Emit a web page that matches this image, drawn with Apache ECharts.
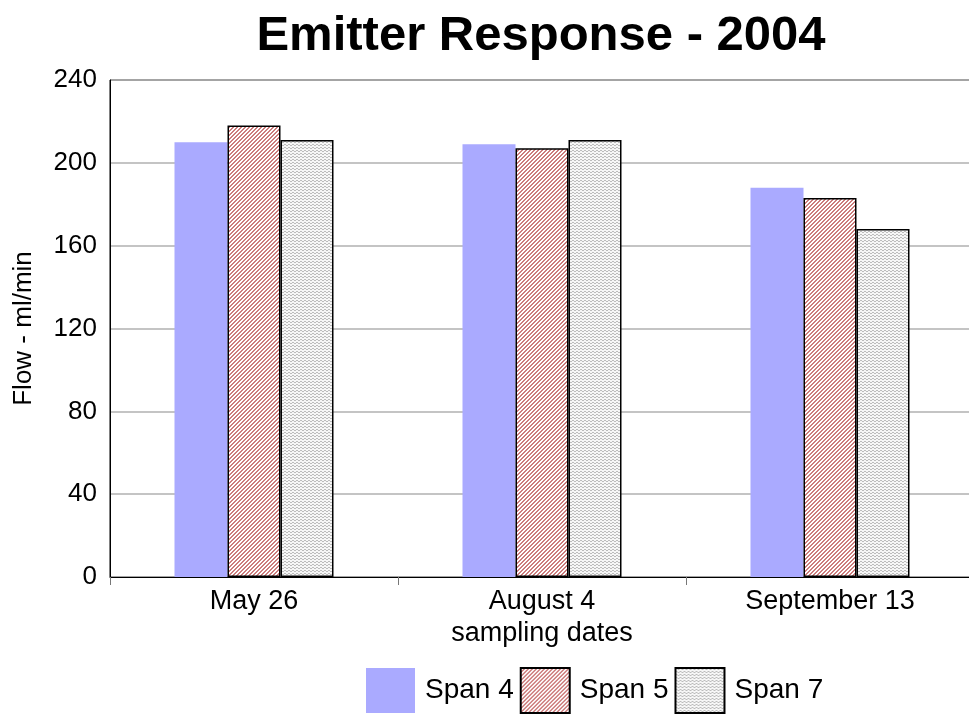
<!DOCTYPE html>
<html>
<head>
<meta charset="utf-8">
<script src="https://cdn.jsdelivr.net/npm/echarts@6/dist/echarts.min.js"></script>
<style>
  html, body { margin: 0; padding: 0; background: #fff; }
  #chart { width: 969px; height: 715px; }
</style>
</head>
<body>
<div id="chart"></div>
<script>
var dates = ['May 26', 'August 4', 'September 13'];
var span4 = [210, 209, 188];
var span5 = [218, 207, 183];
var span7 = [211, 211, 168];
var yTicks = [0, 40, 80, 120, 160, 200, 240];

// pixel tiles for the hatched bars
function hatch() {
    var c = document.createElement('canvas');
    c.width = 4; c.height = 4;
    var ctx = c.getContext('2d');
    ctx.fillStyle = '#ffffff';
    ctx.fillRect(0, 0, 4, 4);
    ctx.fillStyle = '#cc7c7c';
    for (var i = 0; i < 4; i++) {
        ctx.fillRect(i, 3 - i, 1, 1);
        ctx.fillRect((i + 1) % 4, 3 - i, 1, 1);
    }
    return c;
}

function dots() {
    var c = document.createElement('canvas');
    c.width = 4; c.height = 3;
    var ctx = c.getContext('2d');
    ctx.fillStyle = '#f6f6f6';
    ctx.fillRect(0, 0, 4, 3);
    ctx.fillStyle = '#bcbcbc';
    ctx.fillRect(0, 0, 2, 1);
    ctx.fillRect(2, 1, 2, 1);
    return c;
}

var chart = echarts.init(document.getElementById('chart'));
var font = 'Liberation Sans, Arial, sans-serif';

var option = {
    backgroundColor: '#fff',
    animation: false,
    title: {
        text: 'Emitter Response - 2004',
        left: 536,
        textAlign: 'center',
        top: 7,
        textStyle: { fontFamily: font, fontSize: 49, fontWeight: 'bold', color: '#000' }
    },
    legend: {
        data: ['Span 4', 'Span 5', 'Span 7'],
        left: 366,
        top: 667,
        padding: 0,
        itemWidth: 49,
        itemHeight: 45,
        itemGap: 6,
        icon: 'rect',
        textStyle: { fontFamily: font, fontSize: 28, color: '#000', padding: [0, 0, 0, 5] }
    },
    grid: {
        left: 110,
        right: -5,
        top: 80,
        bottom: 138,
        outerBoundsMode: 'none',
        show: true,
        borderColor: '#000',
        borderWidth: 1
    },
    xAxis: {
        type: 'category',
        data: dates,
        name: 'sampling dates',
        nameLocation: 'middle',
        nameGap: 42,
        nameTextStyle: { fontFamily: font, fontSize: 27, color: '#000' },
        axisLine: { lineStyle: { color: '#000', width: 1 } },
        axisTick: { show: true, length: 8, lineStyle: { color: '#777' } },
        axisLabel: { fontFamily: font, fontSize: 27, color: '#000', margin: 11 }
    },
    yAxis: {
        type: 'value',
        min: 0,
        max: 240,
        interval: 40,
        name: 'Flow - ml/min',
        nameLocation: 'middle',
        nameGap: 73,
        nameTextStyle: { fontFamily: font, fontSize: 26, color: '#000' },
        axisLine: { show: true, lineStyle: { color: '#000' } },
        axisTick: { show: false },
        axisLabel: {
            fontFamily: font, fontSize: 26, color: '#000', margin: 13,
            formatter: function (v) { return yTicks.indexOf(v) >= 0 ? v : ''; }
        },
        splitLine: { lineStyle: { color: '#b0b0b0', width: 1.5 } }
    },
    series: [{
        name: 'Span 4',
        type: 'bar',
        barWidth: 53,
        barGap: '0%',
        data: span4,
        itemStyle: { color: '#aaaaff' }
    }, {
        name: 'Span 5',
        type: 'bar',
        barWidth: 53,
        barGap: '0%',
        data: span5,
        itemStyle: { color: { image: hatch(), repeat: 'repeat' }, borderColor: '#000', borderWidth: 1.5 }
    }, {
        name: 'Span 7',
        type: 'bar',
        barWidth: 53,
        barGap: '0%',
        data: span7,
        itemStyle: { color: { image: dots(), repeat: 'repeat' }, borderColor: '#000', borderWidth: 1.5 }
    }]
};

chart.setOption(option);
</script>
</body>
</html>
